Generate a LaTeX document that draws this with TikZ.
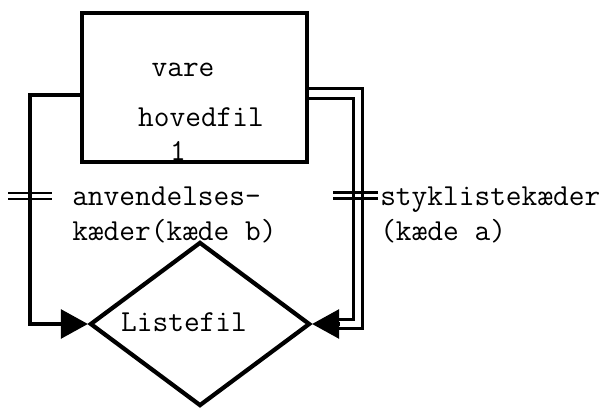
\documentclass[tikz,border=0pt]{standalone}
\usepackage{fontspec}
\usetikzlibrary{arrows.meta,shapes.geometric}

\begin{document}
\begin{tikzpicture}[file/.style={draw=black,rectangle,line width=3pt,minimum width=5.625cm,minimum height=3.725cm},
list/.style={draw=black,diamond,line width=3pt,minimum width=5.5cm,minimum height=4.1cm,inner sep=0pt},
txt/.style={font=\ttfamily\fontsize{21.7}{25.5}\selectfont,inner sep=0pt,align=left},
link/.style={line width=2.4pt},
tip/.style={-{Triangle[length=0.675cm,width=0.72cm]}},
chain/.style={double,double distance=4.5pt,line width=2.2pt},
bar/.style={line width=2pt}]
	\useasboundingbox (0,0) rectangle (15.275,10.225);
	\node[file] at (4.8625,8.0375) (hf) {};
	\node[txt] at (4.575,8.475) (t1) {vare};
	\node[txt] at (5.025,7.3) (t2) {hovedfil};
	\node[txt] at (4.45,6.45) (t3) {1};
	
	\node[list] at (5,2.125) (lf) {};
	\node[txt] at (4.6,2.175) (t4) {Listefil};
	
	\draw[link,tip] ([yshift=-0.19cm]hf.west) -| ([xshift=-1.45cm]lf.west) -- (lf.west);
	\draw[chain] ([yshift=-0.15cm]hf.east) -| ([xshift=1.15cm]lf.east) -- ([xshift=0.6cm]lf.east);
	\draw[link,tip] ([xshift=0.7cm]lf.east) -- (lf.east);
	
	\draw[bar] (0.2,5.4) -- (1.3,5.4);
	\draw[bar] (0.2,5.25) -- (1.3,5.25);
	\draw[bar] (8.325,5.42) -- (9.45,5.42);
	\draw[bar] (8.325,5.27) -- (9.45,5.27);
	
	\node[txt,anchor=west] at (1.8,4.85) (lb) {anvendelses-\\kæder(kæde b)};
	\node[txt,anchor=west] at (9.5,4.85) (la) {styklistekæder\\(kæde a)};
\end{tikzpicture}
\end{document}
